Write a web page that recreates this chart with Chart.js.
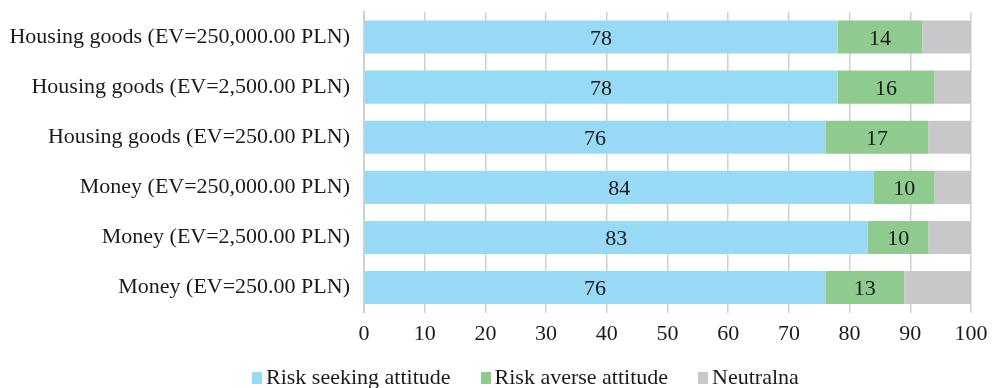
<!DOCTYPE html>
<html>
<head>
<meta charset="utf-8">
<script src="https://cdn.jsdelivr.net/npm/chart.js@4"></script>
<style>
  html, body { margin: 0; padding: 0; background: #fff; }
  #wrap { width: 996px; height: 388px; position: relative; overflow: hidden; }
  #legend {
    position: absolute; left: 252px; top: 366px;
    display: flex; gap: 30px;
    font-family: 'Liberation Serif', 'DejaVu Serif', serif;
    font-size: 22px; line-height: 22px; color: #1a1a1a; white-space: nowrap;
  }
  #legend .swatch {
    display: inline-block; width: 10px; height: 12px;
    margin-right: 4px; vertical-align: baseline;
  }
</style>
</head>
<body>
<div id="wrap">
  <canvas id="riskChart"></canvas>
  <div id="legend"></div>
</div>
<script>
"use strict";

const categories = [
    'Housing goods (EV=250,000.00 PLN)',
    'Housing goods (EV=2,500.00 PLN)',
    'Housing goods (EV=250.00 PLN)',
    'Money (EV=250,000.00 PLN)',
    'Money (EV=2,500.00 PLN)',
    'Money (EV=250.00 PLN)'
];
const riskSeeking = [78, 78, 76, 84, 83, 76];
const riskAverse = [14, 16, 17, 10, 10, 13];
const neutral = [8, 6, 7, 6, 7, 11];
const xTicks = [0, 10, 20, 30, 40, 50, 60, 70, 80, 90, 100];

const FONT = "'Liberation Serif', 'DejaVu Serif', serif";

// draws the value in the middle of each labelled bar segment
const barValueLabels = {
    id: 'barValueLabels',
    afterDatasetsDraw(chart) {
        const ctx = chart.ctx;
        ctx.save();
        ctx.font = `22px ${FONT}`;
        ctx.fillStyle = '#1a1a1a';
        ctx.textAlign = 'center';
        ctx.textBaseline = 'middle';
        chart.data.datasets.forEach((ds, i) => {
            if (!ds.showValues) return;
            chart.getDatasetMeta(i).data.forEach((bar, j) => {
                const cx = (bar.x + bar.base) / 2;
                ctx.fillText(String(ds.data[j]), cx, bar.y + 2);
            });
        });
        ctx.restore();
    }
};

// simple html legend, built from the chart datasets
function buildLegend(chart) {
    const box = document.getElementById('legend');
    box.innerHTML = '';
    chart.data.datasets.forEach(ds => {
        const item = document.createElement('span');
        const swatch = document.createElement('span');
        swatch.className = 'swatch';
        swatch.style.background = ds.backgroundColor;
        item.appendChild(swatch);
        item.appendChild(document.createTextNode(ds.label));
        box.appendChild(item);
    });
}

const ctx = document.getElementById('riskChart').getContext('2d');
const riskChart = new Chart(ctx, {
    type: 'bar',
    data: {
        labels: categories,
        datasets: [
            { label: 'Risk seeking attitude', data: riskSeeking, backgroundColor: '#98d9f5', showValues: true },
            { label: 'Risk averse attitude', data: riskAverse, backgroundColor: '#8fcb8e', showValues: true },
            { label: 'Neutralna', data: neutral, backgroundColor: '#c8c8ca', showValues: false }
        ]
    },
    options: {
        indexAxis: 'y',
        responsive: true,
        maintainAspectRatio: false,
        animation: false,
        barPercentage: 0.825,
        categoryPercentage: 0.8,
        layout: { padding: { left: 0, right: 25, top: 12, bottom: 33 } },
        plugins: {
            tooltip: { enabled: false },
            legend: { display: false }
        },
        scales: {
            x: {
                stacked: true,
                min: 0,
                max: 100,
                afterBuildTicks: (scale) => { scale.ticks = xTicks.map(v => ({ value: v })); },
                grid: { color: '#d0d0d0', lineWidth: 1.5, drawTicks: false, drawOnChartArea: true },
                border: { display: false },
                ticks: {
                    font: { family: FONT, size: 22 },
                    color: '#1a1a1a',
                    padding: 8,
                    maxRotation: 0
                }
            },
            y: {
                stacked: true,
                grid: { display: false, drawTicks: false },
                border: { display: true, color: '#d0d0d0', width: 2 },
                afterFit: (scale) => {
                    scale.width = 364;
                    scale.paddingTop = 0;
                    scale.paddingBottom = 0;
                },
                ticks: {
                    font: { family: FONT, size: 22 },
                    color: '#1a1a1a',
                    padding: 14
                }
            }
        }
    },
    plugins: [barValueLabels]
});

buildLegend(riskChart);
</script>
</body>
</html>
